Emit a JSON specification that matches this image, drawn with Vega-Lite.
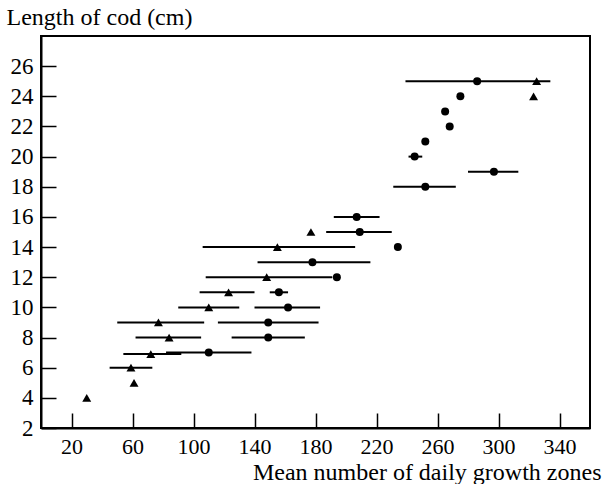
{
  "$schema": "https://vega.github.io/schema/vega-lite/v6.json",
  "width": 549,
  "height": 392,
  "autosize": {"type": "none"},
  "padding": {"left": 41, "top": 36, "right": 13, "bottom": 56},
  "data": {
    "values": [
      {"marker": "triangle", "zones": 30, "length": 4},
      {"marker": "triangle", "zones": 61, "length": 5},
      {"marker": "triangle", "zones": 59, "length": 6, "lo": 45, "hi": 73},
      {"marker": "triangle", "zones": 72, "length": 6.9, "lo": 54, "hi": 92},
      {"marker": "triangle", "zones": 84, "length": 8, "lo": 62, "hi": 105},
      {"marker": "triangle", "zones": 77, "length": 9, "lo": 50, "hi": 107},
      {"marker": "triangle", "zones": 110, "length": 10, "lo": 90, "hi": 130},
      {"marker": "triangle", "zones": 123, "length": 11, "lo": 104, "hi": 140},
      {"marker": "triangle", "zones": 148, "length": 12, "lo": 108, "hi": 191},
      {"marker": "triangle", "zones": 155, "length": 14, "lo": 106, "hi": 206},
      {"marker": "triangle", "zones": 177, "length": 15},
      {"marker": "triangle", "zones": 323, "length": 24},
      {"marker": "triangle", "zones": 325, "length": 25},
      {"marker": "circle", "zones": 110, "length": 7, "lo": 82, "hi": 138},
      {"marker": "circle", "zones": 149, "length": 8, "lo": 125, "hi": 173},
      {"marker": "circle", "zones": 149, "length": 9, "lo": 116, "hi": 182},
      {"marker": "circle", "zones": 162, "length": 10, "lo": 140, "hi": 183},
      {"marker": "circle", "zones": 156, "length": 11, "lo": 150, "hi": 162},
      {"marker": "circle", "zones": 194, "length": 12},
      {"marker": "circle", "zones": 178, "length": 13, "lo": 142, "hi": 216},
      {"marker": "circle", "zones": 234, "length": 14},
      {"marker": "circle", "zones": 209, "length": 15, "lo": 187, "hi": 230},
      {"marker": "circle", "zones": 207, "length": 16, "lo": 192, "hi": 222},
      {"marker": "circle", "zones": 252, "length": 18, "lo": 231, "hi": 272},
      {"marker": "circle", "zones": 297, "length": 19, "lo": 280, "hi": 313},
      {"marker": "circle", "zones": 245, "length": 20, "lo": 241, "hi": 250},
      {"marker": "circle", "zones": 252, "length": 21},
      {"marker": "circle", "zones": 268, "length": 22},
      {"marker": "circle", "zones": 265, "length": 23},
      {"marker": "circle", "zones": 275, "length": 24},
      {"marker": "circle", "zones": 286, "length": 25, "lo": 239, "hi": 334}
    ]
  },
  "encoding": {
    "y": {
      "field": "length",
      "type": "quantitative",
      "scale": {"domain": [2, 28], "nice": false, "zero": false},
      "axis": {
        "title": "Length of cod (cm)",
        "values": [2, 4, 6, 8, 10, 12, 14, 16, 18, 20, 22, 24, 26],
        "tickSize": -15,
        "labelPadding": 23,
        "titleAngle": 0,
        "titleAlign": "left",
        "titleBaseline": "alphabetic",
        "titleX": -35,
        "titleY": -12
      }
    }
  },
  "layer": [
    {
      "transform": [{"filter": "datum.lo != null"}],
      "mark": {"type": "rule", "color": "black", "strokeWidth": 2},
      "encoding": {
        "x": {"field": "lo", "type": "quantitative"},
        "x2": {"field": "hi"}
      }
    },
    {
      "mark": {"type": "point", "filled": true, "color": "black", "opacity": 1},
      "encoding": {
        "x": {
          "field": "zones",
          "type": "quantitative",
          "scale": {"domain": [0, 360], "nice": false},
          "axis": {
            "title": "Mean number of daily growth zones",
            "values": [20, 40, 60, 80, 100, 120, 140, 160, 180, 200, 220, 240, 260, 280, 300, 320, 340],
            "labelExpr": "datum.value % 40 == 20 ? datum.label : ''",
            "labelFontSize": 22,
            "tickSize": -15,
            "labelPadding": 23,
            "labelFlush": false,
            "titleAlign": "right",
            "titleBaseline": "alphabetic",
            "titleX": 560,
            "titleY": 51
          }
        },
        "shape": {
          "field": "marker",
          "type": "nominal",
          "scale": {"domain": ["circle", "triangle"], "range": ["circle", "triangle-up"]},
          "legend": null
        },
        "size": {
          "field": "marker",
          "type": "nominal",
          "scale": {"domain": ["circle", "triangle"], "range": [64, 80]},
          "legend": null
        }
      }
    }
  ],
  "config": {
    "view": {"stroke": "black", "strokeWidth": 2},
    "axis": {
      "grid": false,
      "domainColor": "black",
      "domainWidth": 2,
      "tickColor": "black",
      "tickWidth": 1.5,
      "labelFont": "Liberation Serif",
      "labelFontSize": 23,
      "labelColor": "black",
      "titleFont": "Liberation Serif",
      "titleFontSize": 24,
      "titleFontWeight": "normal",
      "titleColor": "black"
    }
  }
}
